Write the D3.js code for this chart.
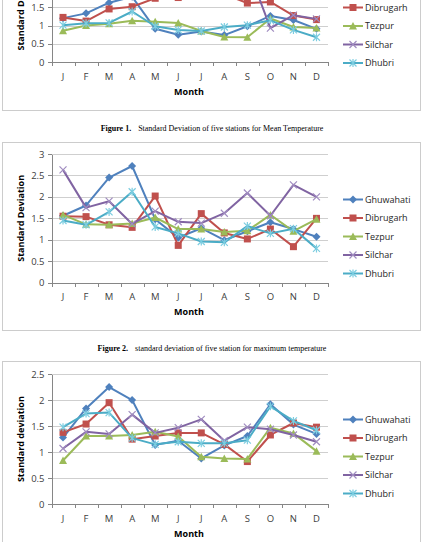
<!DOCTYPE html>
<meta charset="utf-8">
<style>
body { margin: 0; background: #fff; }
svg text { font-family: "Open Sans", sans-serif; }
.tick text { fill: #404040; font-size: 9.5px; }
.axis path, .axis line { stroke: #868686; shape-rendering: crispEdges; }
.grid { stroke: #cfcfcf; shape-rendering: crispEdges; }
.frame { fill: none; stroke: #cccccc; shape-rendering: crispEdges; }
.title { font-weight: bold; font-size: 9px; fill: #000; }
.legend text { font-size: 9px; fill: #262626; }
.caption { font-family: "Liberation Serif", serif; font-size: 8px; fill: #000; }
</style>
<body>
<script src="https://d3js.org/d3.v7.min.js"></script>
<script>

var months = ["J","F","M","A","M","J","J","A","S","O","N","D"];
var stations = ["Ghuwahati","Dibrugarh","Tezpur","Silchar","Dhubri"];
var colors = ["#4F81BD","#C0504D","#9BBB59","#8064A2","#4BACC6"];

// figure 1: mean temperature (top of this chart is cut off in the picture)
var meanGhuwahati = [1.2, 1.33, 1.62, 1.78, 0.91, 0.75, 0.84, 0.74, 0.98, 1.26, 1.15, 0.91];
var meanDibrugarh = [1.22, 1.12, 1.45, 1.51, 1.74, 1.76, 1.9, 1.85, 1.61, 1.64, 1.27, 1.16];
var meanTezpur    = [0.86, 1.0, 1.05, 1.13, 1.1, 1.07, 0.85, 0.69, 0.68, 1.19, 0.96, 0.93];
var meanSilchar   = [2.2, 2.0, 1.95, 1.9, 2.1, 2.3, 2.1, 2.2, 2.6, 0.93, 1.28, 1.18];
var meanDhubri    = [1.01, 1.06, 1.07, 1.38, 0.98, 0.88, 0.85, 0.96, 1.01, 1.14, 0.88, 0.68];

// figure 2: maximum temperature
var maxGhuwahati = [1.56, 1.8, 2.45, 2.72, 1.48, 1.05, 1.27, 0.99, 1.2, 1.41, 1.25, 1.07];
var maxDibrugarh = [1.55, 1.54, 1.35, 1.29, 2.02, 0.87, 1.61, 1.16, 1.02, 1.25, 0.84, 1.5];
var maxTezpur    = [1.58, 1.36, 1.35, 1.38, 1.52, 1.25, 1.25, 1.18, 1.21, 1.58, 1.2, 1.48];
var maxSilchar   = [2.63, 1.75, 1.9, 1.37, 1.67, 1.42, 1.39, 1.62, 2.09, 1.56, 2.28, 2.0];
var maxDhubri    = [1.45, 1.35, 1.65, 2.12, 1.3, 1.15, 0.96, 0.94, 1.32, 1.15, 1.26, 0.8];

// figure 3 (caption not visible)
var minGhuwahati = [1.28, 1.84, 2.25, 2.0, 1.14, 1.22, 0.88, 1.13, 1.31, 1.92, 1.53, 1.35];
var minDibrugarh = [1.38, 1.54, 1.95, 1.25, 1.31, 1.37, 1.37, 1.15, 0.82, 1.33, 1.56, 1.48];
var minTezpur    = [0.84, 1.31, 1.31, 1.33, 1.39, 1.3, 0.91, 0.88, 0.87, 1.47, 1.36, 1.02];
var minSilchar   = [1.07, 1.39, 1.35, 1.72, 1.37, 1.47, 1.63, 1.22, 1.48, 1.44, 1.33, 1.2];
var minDhubri    = [1.48, 1.74, 1.76, 1.27, 1.15, 1.2, 1.17, 1.17, 1.23, 1.88, 1.6, 1.42];

var svg = d3.select("body").append("svg")
    .attr("width", 425)
    .attr("height", 542);

// excel style markers
function marker(sel, i, color) {
  if (i == 0) {
    sel.append("path").attr("d", "M0,-4L4,0L0,4L-4,0Z").attr("fill", color);
  } else if (i == 1) {
    sel.append("rect").attr("x", -3.5).attr("y", -3.5).attr("width", 7).attr("height", 7).attr("fill", color);
  } else if (i == 2) {
    sel.append("path").attr("d", "M0,-4L4,3.5L-4,3.5Z").attr("fill", color);
  } else if (i == 3) {
    sel.append("path").attr("d", "M-3.5,-3.5L3.5,3.5M-3.5,3.5L3.5,-3.5")
      .attr("stroke", "#a08cc0").attr("stroke-width", 1.2).attr("fill", "none");
  } else {
    sel.append("path").attr("d", "M-3.5,-3.5L3.5,3.5M-3.5,3.5L3.5,-3.5M0,-4V4")
      .attr("stroke", "#7ccde0").attr("stroke-width", 1.2).attr("fill", "none");
  }
}

function drawChart(cfg) {
  var g = svg.append("g");

  g.append("rect").attr("class", "frame")
      .attr("x", 2.5).attr("y", cfg.frameTop + 0.5)
      .attr("width", 418).attr("height", cfg.frameBottom - cfg.frameTop);

  var x = d3.scaleBand().domain(d3.range(12)).range([51.5, 328]);
  var xb = d3.scaleLinear().domain([0, 12]).range([51.5, 328]);
  var y = d3.scaleLinear().domain([0, cfg.max]).range([cfg.y0, cfg.yTop]);
  var ticks = d3.range(0, cfg.max + 0.01, 0.5);

  g.selectAll(".grid")
      .data(ticks.slice(1))
    .enter().append("line")
      .attr("class", "grid")
      .attr("x1", 51.5).attr("x2", 328)
      .attr("y1", function(d) { return Math.round(y(d)) + 0.5; })
      .attr("y2", function(d) { return Math.round(y(d)) + 0.5; });

  g.append("g")
      .attr("class", "axis")
      .attr("transform", "translate(51.5,0)")
      .call(d3.axisLeft(y).tickValues(ticks).tickSize(4).tickSizeOuter(0).tickPadding(3)
        .tickFormat(d3.format("~g")));

  g.append("g")
      .attr("class", "axis")
      .attr("transform", "translate(0," + cfg.y0 + ")")
      .call(d3.axisBottom(xb).ticks(12).tickSize(4).tickSizeOuter(0).tickFormat(""));

  g.append("g")
      .attr("class", "axis")
      .attr("transform", "translate(0," + cfg.y0 + ")")
      .call(d3.axisBottom(x).tickSize(0).tickPadding(11).tickFormat(function(i) { return months[i]; }))
      .select(".domain").remove();

  g.append("text").attr("class", "title")
      .attr("text-anchor", "middle")
      .attr("x", 189).attr("y", cfg.y0 + 32.5)
      .text("Month");

  g.append("text").attr("class", "title")
      .attr("text-anchor", "middle")
      .attr("transform", "translate(24," + ((cfg.y0 + cfg.yTop) / 2) + ")rotate(-90)")
      .text(cfg.yTitle);

  var line = d3.line()
      .x(function(d, i) { return x(i) + x.bandwidth() / 2; })
      .y(function(d) { return y(d); });

  cfg.series.forEach(function(s, k) {
    g.append("path")
        .attr("d", line(s))
        .attr("fill", "none")
        .attr("stroke", colors[k])
        .attr("stroke-width", 2)
        .attr("stroke-linejoin", "round");
    g.selectAll(".m" + k)
        .data(s)
      .enter().append("g")
        .attr("transform", function(d, i) { return "translate(" + (x(i) + x.bandwidth() / 2) + "," + y(d) + ")"; })
        .each(function() { marker(d3.select(this), k, colors[k]); });
  });

  var legend = g.selectAll(".legend")
      .data(stations)
    .enter().append("g")
      .attr("class", "legend")
      .attr("transform", function(d, i) { return "translate(343," + (cfg.legendTop + i * 18.5) + ")"; });

  legend.append("line")
      .attr("x1", 0).attr("x2", 20)
      .attr("stroke", function(d, i) { return colors[i]; })
      .attr("stroke-width", 2);
  legend.each(function(d, i) {
    marker(d3.select(this).append("g").attr("transform", "translate(10,0)"), i, colors[i]);
  });
  legend.append("text")
      .attr("x", 22)
      .attr("dy", ".35em")
      .text(function(d) { return d; });
}

function caption(yPos, num, txt) {
  var t = svg.append("text").attr("class", "caption")
      .attr("x", 212).attr("y", yPos)
      .attr("text-anchor", "middle");
  t.append("tspan").attr("font-weight", "bold").text("Figure " + num + ".");
  t.append("tspan").attr("dx", 7).text(txt);
}

drawChart({
  frameTop: -58, frameBottom: 110, y0: 62.3, yTop: -48.1, max: 3, legendTop: -11,
  yTitle: "Standard Deviation",
  series: [meanGhuwahati, meanDibrugarh, meanTezpur, meanSilchar, meanDhubri]
});
caption(130.5, 1, "Standard Deviation of five stations for Mean Temperature");

drawChart({
  frameTop: 142, frameBottom: 330, y0: 282.7, yTop: 154, max: 3, legendTop: 199.5,
  yTitle: "Standard Deviation",
  series: [maxGhuwahati, maxDibrugarh, maxTezpur, maxSilchar, maxDhubri]
});
caption(350.5, 2, "standard deviation of five station for maximum temperature");

drawChart({
  frameTop: 361, frameBottom: 551, y0: 504.3, yTop: 374, max: 2.5, legendTop: 419.5,
  yTitle: "Standard deviation",
  series: [minGhuwahati, minDibrugarh, minTezpur, minSilchar, minDhubri]
});

</script>
